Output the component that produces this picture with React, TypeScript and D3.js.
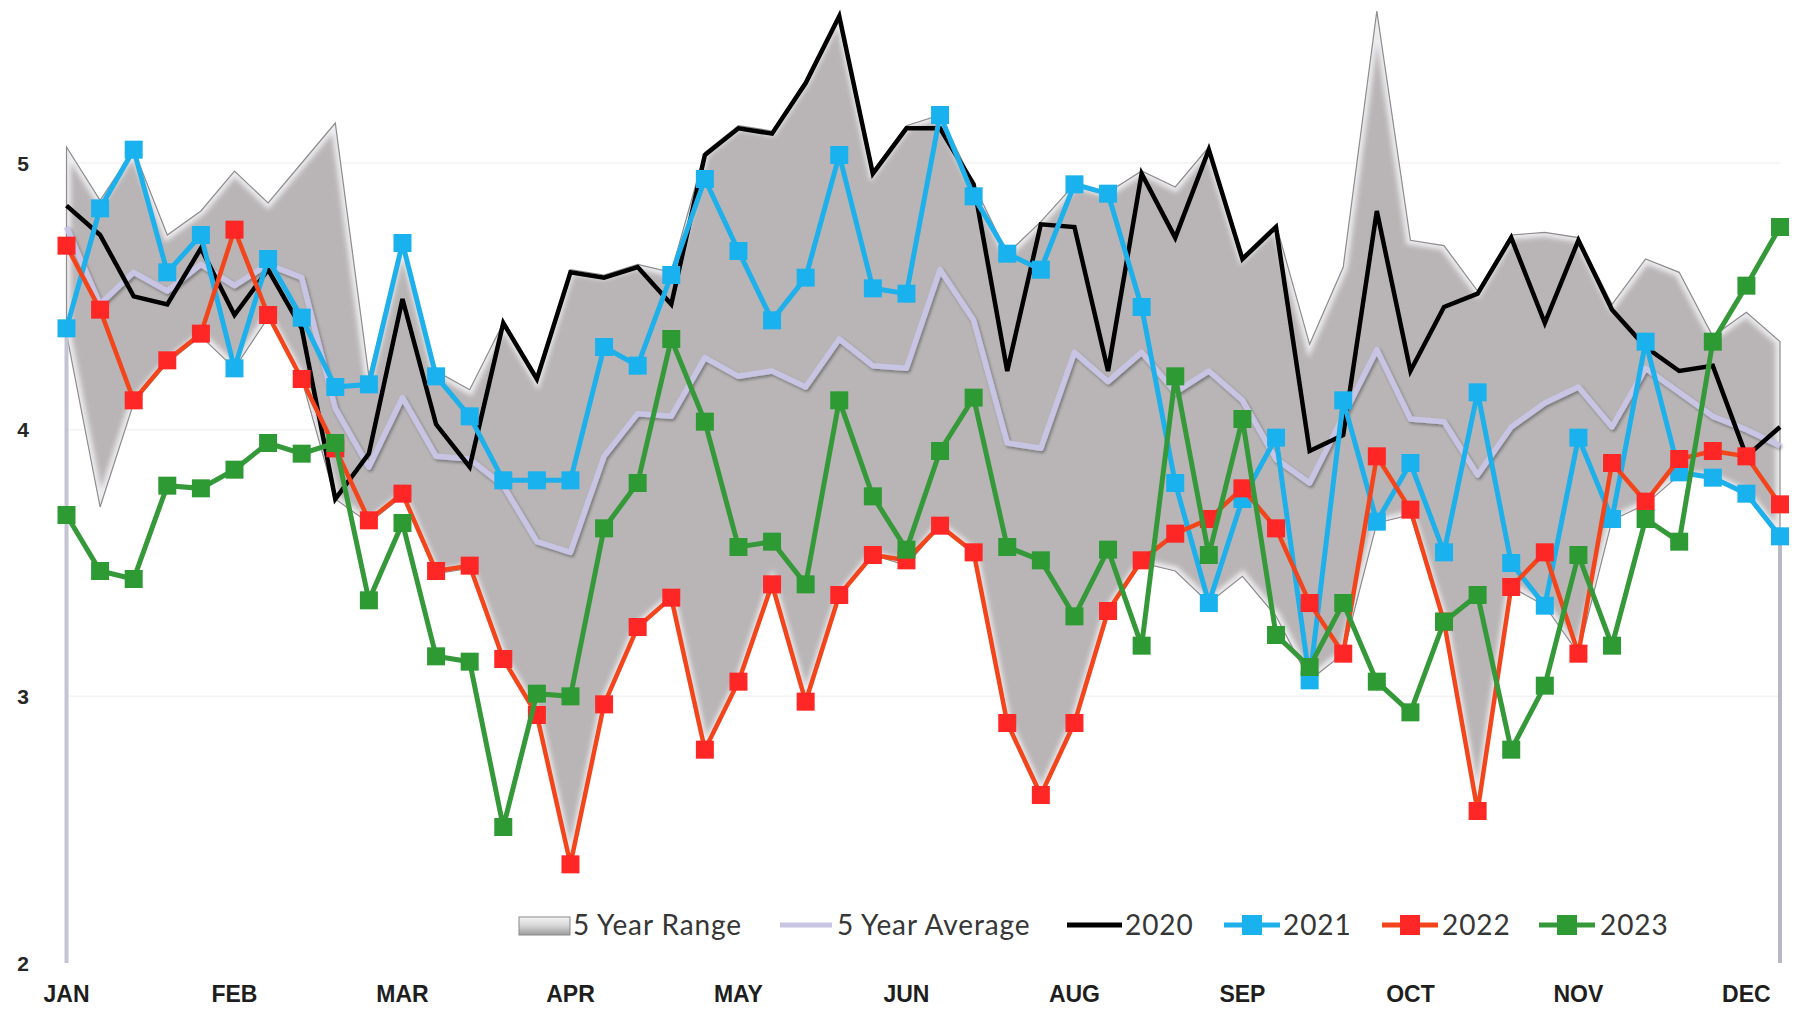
import React from "react";
import * as d3 from "d3";

// ---- categories (52 weekly points) and tick labels ----
const weeks: number[] = d3.range(52);
const monthLabels = ["JAN", "FEB", "MAR", "APR", "MAY", "JUN", "AUG", "SEP", "OCT", "NOV", "DEC"];
const yTicks = [2, 3, 4, 5];

// ---- series values ----
const rangeHigh = [
  5.06, 4.86, 5.05, 4.73, 4.82, 4.97, 4.85, 5.0, 5.15, 4.2,
  4.71, 4.22, 4.15, 4.4, 4.19, 4.6, 4.58, 4.62, 4.59, 5.04,
  5.14, 5.12, 5.31, 5.56, 4.97, 5.14, 5.18, 4.92, 4.66, 4.78,
  4.92, 4.89, 4.97, 4.91, 5.06, 4.65, 4.77, 4.32, 4.61, 5.57,
  4.71, 4.69, 4.52, 4.73, 4.74, 4.72, 4.47, 4.64, 4.59, 4.35,
  4.44, 4.33,
];
const rangeLow = [
  4.36, 3.71, 4.1, 4.25, 4.35, 4.23, 4.42, 4.19, 3.74, 3.65,
  3.75, 3.46, 3.48, 3.14, 2.93, 2.37, 2.97, 3.26, 3.37, 2.8,
  3.05, 3.42, 2.98, 3.37, 3.53, 3.49, 3.64, 3.54, 2.9, 2.63,
  2.9, 3.32, 3.5, 3.47, 3.35, 3.45, 3.3, 3.06, 3.16, 3.65,
  3.68, 3.28, 2.57, 3.41, 3.34, 3.16, 3.66, 3.72, 3.83, 3.82,
  3.76, 3.6,
];
const avg5 = [
  4.76, 4.47, 4.59, 4.52, 4.62, 4.54, 4.62, 4.57, 4.08, 3.86,
  4.12, 3.9, 3.89, 3.79, 3.58, 3.54, 3.9, 4.06, 4.05, 4.27,
  4.2, 4.22, 4.16, 4.34, 4.24, 4.23, 4.6, 4.41, 3.95, 3.93,
  4.29, 4.18, 4.29, 4.14, 4.22, 4.11, 3.89, 3.8, 4.05, 4.3,
  4.04, 4.03, 3.83, 4.01, 4.1, 4.16, 4.01, 4.23, 4.14, 4.05,
  4.0, 3.94,
];
const y2020 = [
  4.84, 4.73, 4.5, 4.47, 4.68, 4.43, 4.6, 4.38, 3.74, 3.91,
  4.49, 4.02, 3.86, 4.4, 4.19, 4.59, 4.57, 4.61, 4.47, 5.03,
  5.13, 5.11, 5.3, 5.55, 4.96, 5.13, 5.13, 4.92, 4.22, 4.77,
  4.76, 4.22, 4.96, 4.72, 5.05, 4.64, 4.76, 3.92, 3.98, 4.82,
  4.22, 4.46, 4.51, 4.72, 4.4, 4.71, 4.45, 4.31, 4.22, 4.24,
  3.9, 4.01,
];
const y2021 = [
  4.38, 4.83, 5.05, 4.59, 4.73, 4.23, 4.64, 4.42, 4.16, 4.17,
  4.7, 4.2, 4.05, 3.81, 3.81, 3.81, 4.31, 4.24, 4.58, 4.94,
  4.67, 4.41, 4.57, 5.03, 4.53, 4.51, 5.18, 4.875, 4.66, 4.6,
  4.92, 4.885, 4.46, 3.8, 3.35, 3.74, 3.97, 3.06, 4.11, 3.655,
  3.875, 3.54, 4.14, 3.5, 3.34, 3.97, 3.665, 4.33, 3.84, 3.82,
  3.76, 3.6,
];
const y2022 = [
  4.69, 4.45, 4.11, 4.26, 4.36, 4.75, 4.43, 4.19, 3.93, 3.66,
  3.76, 3.47, 3.49, 3.14, 2.93, 2.37, 2.97, 3.26, 3.37, 2.8,
  3.055, 3.42, 2.98, 3.38, 3.53, 3.51, 3.64, 3.54, 2.9, 2.63,
  2.9, 3.32, 3.51, 3.61, 3.665, 3.78, 3.63, 3.35, 3.16, 3.9,
  3.7, 3.28, 2.57, 3.41, 3.54, 3.16, 3.875, 3.73, 3.89, 3.92,
  3.9, 3.72,
];
const y2023 = [
  3.68, 3.47, 3.44, 3.79, 3.78, 3.85, 3.95, 3.91, 3.95, 3.36,
  3.65, 3.15, 3.13, 2.51, 3.01, 3.0, 3.63, 3.8, 4.34, 4.03,
  3.56, 3.58, 3.42, 4.11, 3.75, 3.55, 3.92, 4.12, 3.56, 3.51,
  3.3, 3.55, 3.19, 4.2, 3.53, 4.04, 3.23, 3.11, 3.35, 3.055,
  2.94, 3.28, 3.38, 2.8, 3.04, 3.53, 3.19, 3.665, 3.58, 4.33,
  4.54, 4.76,
];

const W = 1798;
const H = 1012;

type Series = {
  name: string;
  data: number[];
  line: string;
  marker: string | null;
  width: number;
};

const series: Series[] = [
  { name: "2020", data: y2020, line: "#000000", marker: null, width: 4.5 },
  { name: "2021", data: y2021, line: "#1eb0ea", marker: "#19b2ee", width: 5 },
  { name: "2022", data: y2022, line: "#f2451c", marker: "#ff2626", width: 4.5 },
  { name: "2023", data: y2023, line: "#35993a", marker: "#2e9a34", width: 5 },
];

export default function App() {
  const x = d3.scaleLinear().domain([0, weeks.length - 1]).range([66.5, 1780]);
  const y = d3.scaleLinear().domain([2, 5]).range([963, 163]);

  const area = d3
    .area<number>()
    .x((_, i) => x(weeks[i]))
    .y0((_, i) => y(rangeLow[i]))
    .y1((d) => y(d));
  const rangePath = area(rangeHigh) || "";

  const line = d3
    .line<number>()
    .x((_, i) => x(weeks[i]))
    .y((d) => y(d));

  const ms = 18;
  const font = "Lato, 'Open Sans', sans-serif";
  const legendY = 925;

  const first = weeks[0];
  const last = weeks[weeks.length - 1];

  return (
    <svg
      width={W}
      height={H}
      style={{ position: "absolute", left: 0, top: 0, background: "#ffffff" }}
    >
      <defs>
        <clipPath id="rangeClip">
          <path d={rangePath} />
        </clipPath>
        <filter id="soft" x="-20%" y="-20%" width="140%" height="140%">
          <feGaussianBlur stdDeviation="2.5" />
        </filter>
        <filter id="shadow" x="-5%" y="-10%" width="110%" height="130%">
          <feDropShadow dx="1.5" dy="2" stdDeviation="1.5" floodColor="#000" floodOpacity="0.35" />
        </filter>
        <filter id="lightShadow" x="-5%" y="-10%" width="110%" height="130%">
          <feDropShadow dx="1" dy="1.5" stdDeviation="1" floodColor="#000" floodOpacity="0.2" />
        </filter>
        <filter id="markerSoft" x="-30%" y="-30%" width="160%" height="160%">
          <feGaussianBlur stdDeviation="0.7" />
        </filter>
        <linearGradient id="legendRange" x1="0" y1="0" x2="0" y2="1">
          <stop offset="0" stopColor="#f4f4f4" />
          <stop offset="0.45" stopColor="#d8d8d8" />
          <stop offset="1" stopColor="#9c9c9c" />
        </linearGradient>
      </defs>

      {/* faint gridlines */}
      {yTicks.slice(1).map((t) => (
        <line key={t} x1={x(first)} x2={x(last)} y1={y(t)} y2={y(t)} stroke="#f3f3f3" strokeWidth={1.5} />
      ))}

      {/* 5 year range */}
      <path d={rangePath} fill="#b9b5b6" />
      <g clipPath="url(#rangeClip)">
        <path d={rangePath} fill="none" stroke="#ecebee" strokeWidth={9} filter="url(#soft)" />
      </g>
      <path d={rangePath} fill="none" stroke="#8e8c8e" strokeWidth={1.2} />

      {/* plot border pieces (left/right verticals, base line) */}
      <line x1={x(first)} x2={x(first)} y1={y(rangeLow[0])} y2={y(2)} stroke="#c4c3d3" strokeWidth={4} />
      <line x1={x(last)} x2={x(last)} y1={y(rangeLow[rangeLow.length - 1])} y2={y(2)} stroke="#b8b7c6" strokeWidth={4} />
      <line x1={x(first) - 2} x2={x(last) + 2} y1={y(2)} y2={y(2)} stroke="#d6d6d6" strokeWidth={4} filter="url(#lightShadow)" />

      {/* 5 year average */}
      <path d={line(avg5) || ""} fill="none" stroke="#c7c5e3" strokeWidth={5.5} strokeLinejoin="round" filter="url(#shadow)" />

      {/* yearly series */}
      {series.map((s) => (
        <g key={s.name}>
          <path d={line(s.data) || ""} fill="none" stroke={s.line} strokeWidth={s.width} strokeLinejoin="miter" />
          {s.marker &&
            s.data.map((v, i) => (
              <rect
                key={i}
                x={x(weeks[i]) - ms / 2}
                y={y(v) - ms / 2}
                width={ms}
                height={ms}
                fill={s.marker as string}
                filter={s.name === "2022" ? "url(#markerSoft)" : undefined}
              />
            ))}
        </g>
      ))}

      {/* y tick labels */}
      {yTicks.map((t) => (
        <text
          key={t}
          x={23}
          y={y(t)}
          textAnchor="middle"
          dominantBaseline="central"
          fontFamily="'Liberation Sans', Arial, sans-serif"
          fontWeight="bold"
          fontSize={21}
          fill="#262626"
        >
          {t}
        </text>
      ))}

      {/* x month labels every 5 weeks */}
      {monthLabels.map((m, k) => (
        <text
          key={m}
          x={x(weeks[k * 5])}
          y={1002}
          textAnchor="middle"
          fontFamily="'Liberation Sans', Arial, sans-serif"
          fontWeight="bold"
          fontSize={23}
          fill="#1e1e1e"
        >
          {m}
        </text>
      ))}

      {/* legend */}
      <g fontFamily={font} fontSize={28} fill="#363636" letterSpacing={0.9}>
        <rect x={519} y={917} width={51} height={18} fill="url(#legendRange)" stroke="#8a8a8a" strokeWidth={1} />
        <text x={573} y={935}>5 Year Range</text>

        <line x1={780} x2={832} y1={legendY} y2={legendY} stroke="#c7c5e3" strokeWidth={5} />
        <text x={837} y={935}>5 Year Average</text>

        <line x1={1067} x2={1122} y1={legendY} y2={legendY} stroke="#000" strokeWidth={5} />
        <text x={1125} y={935}>2020</text>

        {series.slice(1).map((s, k) => {
          const x0 = [1224, 1382, 1539][k];
          const tx = [1283, 1442, 1600][k];
          return (
            <g key={s.name}>
              <line x1={x0} x2={x0 + 56} y1={legendY} y2={legendY} stroke={s.line} strokeWidth={5} />
              <rect x={x0 + 28 - 10} y={legendY - 10} width={20} height={20} fill={s.marker as string} />
              <text x={tx} y={935}>{s.name}</text>
            </g>
          );
        })}
      </g>
    </svg>
  );
}
